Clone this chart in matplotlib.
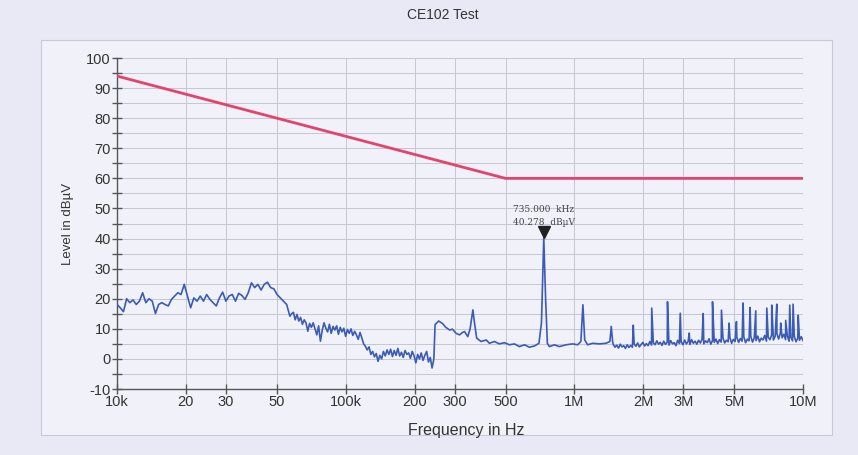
import numpy as np
import matplotlib
matplotlib.use('Agg')
import matplotlib.pyplot as plt
from matplotlib.patches import Rectangle
from matplotlib.ticker import NullLocator
from matplotlib.transforms import offset_copy

plt.rcParams['font.family'] = ['Liberation Sans', 'DejaVu Sans']
plt.rcParams['axes.unicode_minus'] = False

# CE102 limit line (Hz, dBuV)
limit_f = [10e3, 500e3, 10e6]
limit_db = [94, 60, 60]

# sweep part 1 : 10k - 57k (levels)
sweep1_range = (10e3, 57e3)
sweep1_db = [18.1, 17.0, 15.7, 20.0, 18.7, 19.6, 18.1, 19.2, 22.0, 18.7,
             20.0, 19.2, 15.1, 18.1, 18.7, 18.1, 17.6, 19.8, 20.9, 22.0,
             21.4, 24.8, 20.9, 17.0, 20.3, 19.2, 20.9, 19.2, 21.4, 19.8,
             18.7, 17.6, 20.3, 22.2, 19.2, 20.9, 21.4, 19.2, 21.8, 21.1,
             19.8, 22.0, 25.3, 23.7, 24.8, 22.9, 24.8, 25.5, 23.7, 23.3,
             21.4, 20.3, 19.2, 18.1, 14.2]

# sweep part 2 : 58k - 243k
sweep2_range = (58e3, 243e3)
sweep2_db = [15.0, 15.5, 13.0, 14.8, 12.6, 13.8, 11.5, 13.0, 12.0, 9.2,
             11.8, 10.5, 12.0, 10.0, 8.0, 11.0, 5.9, 9.5, 12.0, 10.2,
             9.0, 11.5, 8.5, 10.8, 9.6, 11.0, 8.2, 10.5, 9.0, 10.2,
             7.5, 9.8, 8.5, 10.0, 7.8, 9.2, 8.0, 6.5, 8.8, 7.0,
             5.0, 4.2, 3.0, 4.0, 1.5, 2.5, 0.7, 1.8, -0.8, 1.2,
             0.0, 2.5, 1.0, 3.0, 1.5, 3.2, 0.8, 2.8, 1.2, 3.5,
             1.0, 2.2, 0.5, 2.8, 1.5, 2.0, 0.2, 2.5, 1.0, -1.3,
             1.5, 0.0, 2.0, -0.5, 1.2, 2.5, -1.0, 0.5, -3.0, 0.0]

# 246k - 1.47M, read point by point (kHz, dBuV)
mid_f_khz = [246, 255, 265, 273, 285, 293, 304, 315, 324, 331,
             342, 350, 360, 366, 374, 391, 412, 425, 447, 470,
             495, 520, 547, 575, 605, 636, 669, 700, 718, 735,
             749, 762, 778, 818, 860, 920, 983, 1034, 1068, 1090,
             1110, 1143, 1202, 1286, 1375, 1430, 1450, 1470]
mid_db = [11.4, 12.6, 11.8, 10.6, 9.6, 9.9, 8.5, 8.0, 8.8, 9.1,
          7.4, 10.0, 16.3, 11.9, 6.9, 5.8, 6.3, 5.2, 5.8, 5.0,
          5.4, 4.7, 5.0, 4.1, 4.7, 3.9, 4.3, 5.2, 11.9, 40.3,
          19.6, 5.2, 4.1, 4.7, 4.1, 4.7, 5.0, 4.7, 5.8, 18.0,
          6.3, 4.7, 5.2, 5.0, 5.2, 5.8, 10.8, 5.8]

# sweep part 3 : 1.48M - 10M noise floor
sweep3_range = (1.48e6, 10e6)
sweep3_db = [4.8, 3.9, 4.6, 3.6, 4.9, 4.0, 4.4, 3.5, 4.7, 3.8, 4.5,
             3.9, 5.0, 4.2, 5.3, 4.0, 4.8, 5.5, 4.3, 5.1, 4.4,
             5.8, 4.6, 5.4, 4.7, 6.0, 4.9, 5.5, 4.5, 5.9, 4.8,
             5.6, 4.6, 6.1, 5.0, 5.4, 4.4, 6.2, 5.1, 5.7, 4.7,
             6.3, 5.0, 5.8, 4.8, 6.4, 5.2, 5.9, 4.9, 6.2, 5.3,
             6.5, 5.0, 6.0, 5.4, 6.7, 4.9, 6.1, 5.5, 6.6, 5.1,
             6.4, 5.6, 7.0, 5.3, 6.2, 5.7, 7.1, 5.2, 6.5, 5.8,
             7.2, 5.5, 6.8, 5.9, 7.3, 5.4, 6.6, 6.0, 7.4, 5.6,
             7.0, 6.1, 7.6, 5.7, 6.9, 6.3, 7.8, 5.9, 7.2, 6.4,
             8.0, 6.3, 7.5, 8.4, 6.6, 8.6, 7.0, 8.2, 6.4, 7.6,
             5.9, 7.2, 6.0, 7.5, 5.7, 6.9, 6.2, 7.4, 6.1]

# harmonic spurs above 1.5M (kHz, dBuV)
spur_f_khz = [1810, 2180, 2555, 2905, 3180, 3660, 4020, 4400, 4750, 5115,
              5470, 5870, 6215, 6945, 7300, 7680, 7990, 8400, 8750, 9050, 9530]
spur_db = [11.2, 16.9, 19.0, 15.2, 8.6, 15.1, 19.0, 16.2, 11.9, 12.4,
           18.6, 17.1, 16.0, 16.9, 17.9, 18.2, 11.9, 12.8, 17.9, 18.2, 14.5]

marker_f = 735e3
marker_db = 40.278

xticks = [10e3, 20e3, 30e3, 50e3, 100e3, 200e3, 300e3, 500e3,
          1e6, 2e6, 3e6, 5e6, 10e6]
xtick_labels = ['10k', '20', '30', '50', '100k', '200', '300', '500',
                '1M', '2M', '3M', '5M', '10M']

# build the trace
f1 = np.geomspace(*sweep1_range, len(sweep1_db))
f2 = np.geomspace(*sweep2_range, len(sweep2_db))
f3 = np.concatenate([np.geomspace(*sweep3_range, len(sweep3_db)),
                     np.array(spur_f_khz) * 1e3])
d3 = np.concatenate([sweep3_db, spur_db])
order = np.argsort(f3)
trace_f = np.concatenate([f1, f2, np.array(mid_f_khz) * 1e3, f3[order]])
trace_db = np.concatenate([sweep1_db, sweep2_db, mid_db, d3[order]])

fig = plt.figure(figsize=(8.58, 4.55), dpi=100, facecolor='#e9e9f5')
fig.patches.append(Rectangle((0.048, 0.044), 0.922, 0.868, transform=fig.transFigure,
                             facecolor='#f1f1fa', edgecolor='#c9c9d6', lw=0.8, zorder=-10))
ax = fig.add_axes([0.1364, 0.145, 0.7995, 0.7275])
ax.set_zorder(2)
ax.set_facecolor('#f1f1fa')

ax.plot(trace_f, trace_db, color='#3b5cb5', lw=1.2, zorder=3)
ax.plot(limit_f, limit_db, color='#e4436c', lw=2.0, zorder=4)

# marker
ax.plot(marker_f, marker_db, marker='v', ms=8, color='#222222', zorder=5,
        transform=offset_copy(ax.transData, fig=fig, y=4, units='points'))
ax.annotate('735.000  kHz', xy=(marker_f, marker_db), xytext=(0, 20),
            textcoords='offset points', ha='center', va='center',
            fontsize=6.5, family='DejaVu Serif', color='#444444')
ax.annotate('40.278  dB\u00b5V', xy=(marker_f, marker_db), xytext=(0, 11),
            textcoords='offset points', ha='center', va='center',
            fontsize=6.5, family='DejaVu Serif', color='#444444')

ax.set_xscale('log')
ax.set_xlim(10e3, 10e6)
ax.set_ylim(-10, 100)
ax.set_xticks(xticks)
ax.set_xticklabels(xtick_labels)
ax.xaxis.set_minor_locator(NullLocator())
ax.set_yticks(range(-10, 101, 10))
ax.set_yticks(range(-5, 100, 10), minor=True)

ax.grid(True, which='both', axis='y', color='#c6c6d0', lw=0.7)
ax.grid(True, which='major', axis='x', color='#c6c6d0', lw=0.7)
ax.set_axisbelow(True)

for s in ['top', 'right']:
    ax.spines[s].set_visible(False)
for s in ['left', 'bottom']:
    ax.spines[s].set_color('#555555')
    ax.spines[s].set_linewidth(1.0)

ax.tick_params(which='both', direction='inout', length=7, width=1,
               colors='#555555', labelcolor='#333333', labelsize=10.5, pad=1)

fig.text(0.079, 1 - 224 / 455, 'Level in dB\u00b5V', rotation=90, ha='center',
         va='center', fontsize=9.5, color='#333333')
fig.text(466 / 858, 1 - 430 / 455, 'Frequency in Hz', ha='center', va='center',
         fontsize=11.5, color='#333333')
fig.text(443 / 858, 1 - 15 / 455, 'CE102 Test', ha='center', va='center',
         fontsize=10, color='#333333')

fig.savefig('out.png', dpi=100, facecolor=fig.get_facecolor())
